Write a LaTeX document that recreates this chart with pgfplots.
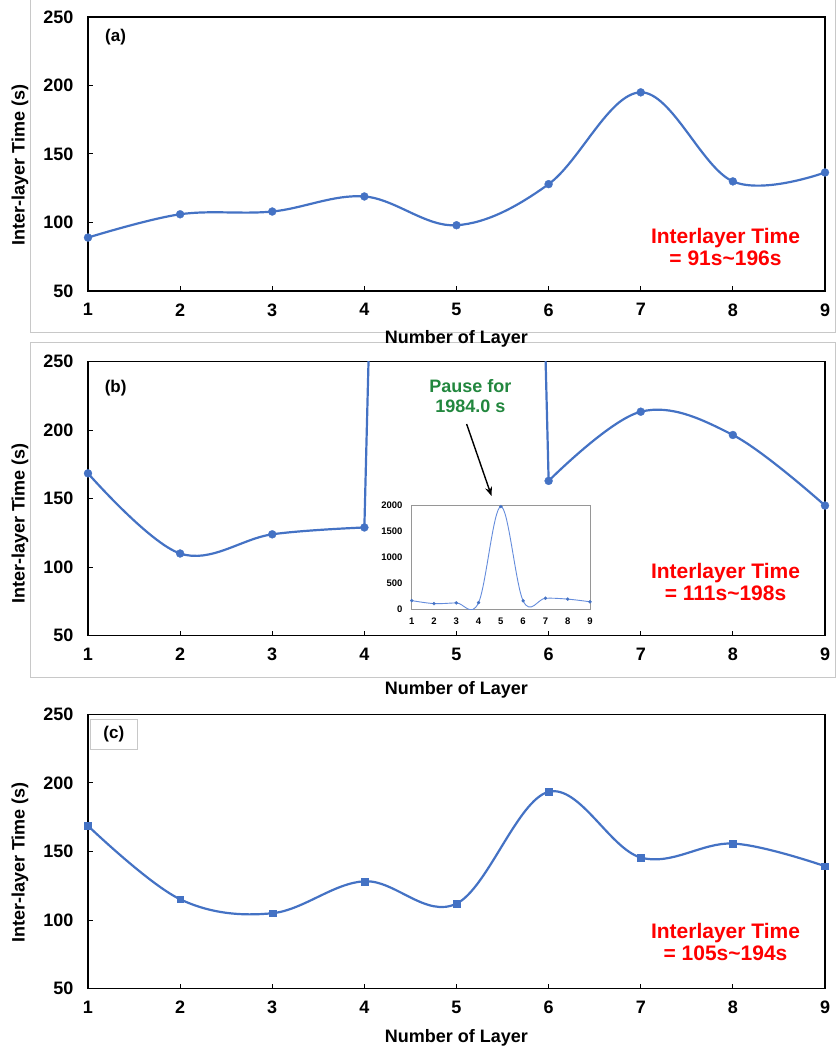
\documentclass[border=0pt]{standalone}
\usepackage{fontspec}
\setmainfont{Liberation Sans}
\usepackage{pgfplots}
\pgfplotsset{compat=1.18}
\usetikzlibrary{arrows.meta}
\definecolor{xlblue}{RGB}{68,114,196}
\definecolor{inblue}{RGB}{100,140,220}
\definecolor{grn}{RGB}{34,135,62}
\definecolor{frm}{RGB}{200,200,200}
\definecolor{inax}{RGB}{150,150,150}
\pgfplotsset{
  mainax/.style={
    scale only axis, width=737pt, height=274pt,
    xmin=1, xmax=9, ymin=50, ymax=250,
    xtick={1,...,9}, ytick={50,100,...,250},
    axis line style={black,line width=1.3pt},
    tick style={black,line width=1pt},
    tickpos=left, tick align=inside, major tick length=5pt,
    /pgf/number format/assume math mode=true,
    tick label style={font=\bfseries\fontsize{18}{20}\selectfont},
    xticklabel style={yshift=-9pt},
    yticklabel style={xshift=-11pt},
    label style={font=\bfseries\fontsize{18}{20}\selectfont},
    xlabel={Number of Layer},
    ylabel={Inter-layer Time (s)},
    anchor=south west,
  },
  ln/.style={xlblue, line width=2.2pt, smooth, tension=0.6, no markers},
  dots/.style={only marks, mark=*, mark size=4pt, mark options={solid,fill=xlblue,draw=xlblue,line width=0.3pt}},
}
\tikzset{redtxt/.style={text=red,font=\bfseries\fontsize{21}{22}\selectfont,align=center}}
\begin{document}
\begin{tikzpicture}
% frames
\draw[frm,line width=1pt] (30.7pt,1052pt) -- (30.7pt,717pt) -- (835pt,717pt) -- (835pt,1052pt);
\draw[frm,line width=1pt] (30.7pt,372.3pt) rectangle (835pt,707pt);

% (a)
\begin{axis}[mainax, at={(88pt,759pt)},
  xlabel style={at={(axis description cs:0.5,0)},anchor=base,yshift=-53pt},
  ylabel style={at={(axis description cs:-0.0923,0.46)},anchor=center}]
\addplot[ln] coordinates {(1,89)(2,106)(3,108)(4,119)(5,98)(6,128)(7,195)(8,130)(9,136.5)};
\addplot[dots] coordinates {(1,89)(2,106)(3,108)(4,119)(5,98)(6,128)(7,195)(8,130)(9,136.5)};
\node[font=\bfseries\fontsize{17}{19}\selectfont] at (axis cs:1.30,235.2) {(a)};
\node[redtxt] at (axis cs:7.92,82.3) {Interlayer Time\\= 91s\textasciitilde196s};
\end{axis}

% (b)
\begin{axis}[mainax, at={(88pt,414.3pt)},
  xlabel style={at={(axis description cs:0.5,0)},anchor=base,yshift=-59pt},
  ylabel style={at={(axis description cs:-0.0923,0.41)},anchor=center}]
\addplot[ln] coordinates {(1,168.5)(2,110)(3,124)(4,129)};
\addplot[ln] coordinates {(4,129)(5,1984)(6,163)};
\addplot[ln] coordinates {(6,163)(7,213.5)(8,196.5)(9,145)};
\addplot[dots] coordinates {(1,168.5)(2,110)(3,124)(4,129)(6,163)(7,213.5)(8,196.5)(9,145)};
\node[font=\bfseries\fontsize{17}{19}\selectfont] at (axis cs:1.30,230.6) {(b)};
\node[redtxt] at (axis cs:7.92,89) {Interlayer Time\\= 111s\textasciitilde198s};
\node[text=grn,font=\bfseries\fontsize{18}{20}\selectfont,align=center] at (axis cs:5.15,225) {Pause for\\1984.0 s};
\draw[black,line width=1.4pt,-{Stealth[length=9pt,width=7pt]}] (axis cs:5.11,204.5) -- (axis cs:5.38,152);
\end{axis}

% inset
\begin{axis}[scale only axis, width=178.3pt, height=103.6pt, at={(411.7pt,440.7pt)}, anchor=south west,
  xmin=1, xmax=9, ymin=0, ymax=2000,
  xtick={1,...,9}, ytick={0,500,...,2000},
  axis line style={inax,line width=0.9pt},
  major tick length=0pt,
  axis background/.style={fill=white},
  /pgf/number format/assume math mode=true,
  /pgf/number format/1000 sep={},
  tick label style={font=\bfseries\fontsize{9.5}{11}\selectfont},
  xticklabel style={yshift=-4.7pt},
  yticklabel style={xshift=-5.7pt}]
\addplot[inblue, line width=0.9pt, smooth, tension=0.6, no markers]
  coordinates {(1,168.5)(2,110)(3,124)(4,129)(5,1984)(6,163)(7,213.5)(8,196.5)(9,145)};
\addplot[only marks, mark=*, mark size=1.6pt, mark options={solid,fill=xlblue,draw=xlblue,line width=0.2pt}]
  coordinates {(1,168.5)(2,110)(3,124)(4,129)(5,1984)(6,163)(7,213.5)(8,196.5)(9,145)};
\end{axis}

% (c)
\begin{axis}[mainax, at={(88pt,61.3pt)}, height=274.4pt,
  xlabel style={at={(axis description cs:0.5,0)},anchor=base,yshift=-54pt},
  ylabel style={at={(axis description cs:-0.0923,0.46)},anchor=center}]
\addplot[ln] coordinates {(1,168.7)(2,115.2)(3,105)(4,128.3)(5,112)(6,193.5)(7,145.6)(8,155.8)(9,139.3)};
\addplot[only marks, mark=square*, mark size=3.4pt, mark options={solid,fill=xlblue,draw=xlblue,line width=0.3pt}]
  coordinates {(1,168.7)(2,115.2)(3,105)(4,128.3)(5,112)(6,193.5)(7,145.6)(8,155.8)(9,139.3)};
\node[draw=frm,fill=white,line width=1pt,minimum width=47pt,minimum height=30pt,
  font=\bfseries\fontsize{17}{19}\selectfont] at (axis cs:1.28,235.5) {(c)};
\node[redtxt] at (axis cs:7.92,83.8) {Interlayer Time\\= 105s\textasciitilde194s};
\end{axis}

\pgfresetboundingbox
\path[use as bounding box] (0pt,0pt) rectangle (836pt,1050pt);
\end{tikzpicture}
\end{document}
